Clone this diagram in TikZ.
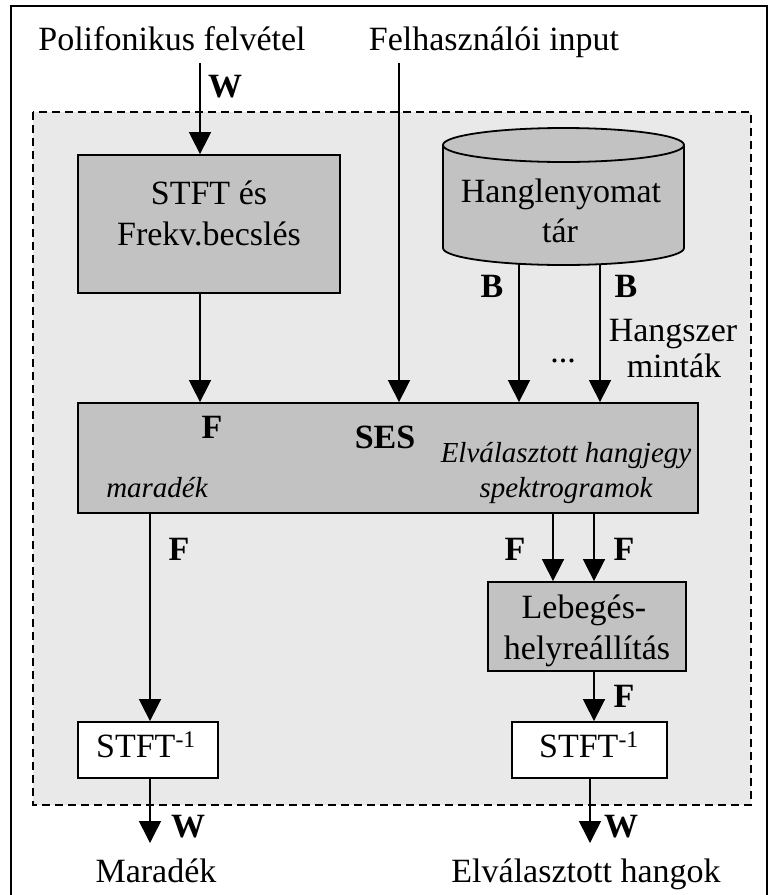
\documentclass[tikz,border=0pt]{standalone}
\usepackage{fontspec}
\setmainfont{Liberation Serif}
\usetikzlibrary{arrows.meta}
\definecolor{panel}{RGB}{233,233,233}
\definecolor{boxfill}{RGB}{194,194,194}
\begin{document}
\begin{tikzpicture}[x=1pt,y=-1pt,
  txt/.style={font=\fontsize{34}{40}\selectfont, inner sep=0pt, anchor=base},
  bld/.style={txt, font=\fontsize{34}{40}\selectfont\bfseries},
  itx/.style={txt, font=\fontsize{29}{34}\selectfont\itshape},
  box/.style={draw, line width=1.8pt, fill=boxfill, inner sep=0pt},
  wbox/.style={draw, line width=1.8pt, fill=white, inner sep=0pt},
  arr/.style={line width=1.6pt, -{Triangle[length=22pt,width=22pt]}},
  bodyline/.style={line width=1.8pt}
]
\useasboundingbox (0,0) rectangle (771,895);
\fill[white] (0,0) rectangle (771,895);
\draw[line width=1.5pt] (11,6) rectangle (767,910);
\draw[fill=panel, dash pattern=on 8pt off 5pt, line width=1.6pt] (33,112) rectangle (751,805);

% boxes
\node[box, minimum width=262pt, minimum height=138pt] (stft) at (209,224) {};
\node[box, minimum width=620pt, minimum height=110pt] (ses) at (388,458) {};
\node[box, minimum width=198pt, minimum height=89pt] (leb) at (587,626.5) {};
\node[wbox, minimum width=140pt, minimum height=56pt] (inv1) at (148,750) {};
\node[wbox, minimum width=155pt, minimum height=56pt] (inv2) at (589.5,750) {};

% cylinder (drawn shape, named frame node)
\node[minimum width=241pt, minimum height=137pt, inner sep=0pt] (cyl) at (563.5,196.5) {};
\fill[boxfill] (563.5,248) ellipse (120.5 and 17);
\fill[boxfill] (443,145) rectangle (684,248);
\begin{scope}
  \clip (430,248) rectangle (700,290);
  \draw[bodyline] (563.5,248) ellipse (120.5 and 17);
\end{scope}
\draw[bodyline] (443,145) -- (443,248);
\draw[bodyline] (684,145) -- (684,248);
\draw[bodyline, fill=boxfill] (563.5,145) ellipse (120.5 and 17);

% texts
\node[txt] (tpoly) at (172,50) {Polifonikus felvétel};
\node[txt] (tuser) at (494,50) {Felhasználói input};
\node[bld] (w0) at (225,97) {W};
\node[txt] (s1) at (209,204) {STFT és};
\node[txt] (s2) at (209,245) {Frekv.becslés};
\node[txt] (h1) at (561,202) {Hanglenyomat};
\node[txt] (h2) at (560,242) {tár};
\node[bld] (b1l) at (492,297) {B};
\node[bld] (b2l) at (626,297) {B};
\node[txt] (hs1) at (673,341) {Hangszer};
\node[txt] (hs2) at (674,377) {minták};
\node[txt] (dots) at (563,362) {...};
\node[bld] (fses) at (212,438) {F};
\node[bld] (tses) at (385,448) {SES};
\node[itx] (e1) at (566,462) {Elválasztott hangjegy};
\node[itx] (e2) at (566,497) {spektrogramok};
\node[itx] (mar) at (157,497) {maradék};
\node[bld] (f1) at (179,560) {F};
\node[bld] (f2) at (515,560) {F};
\node[bld] (f3) at (624,560) {F};
\node[txt] (l1) at (584,618) {Lebegés-};
\node[txt] (l2) at (587,659) {helyreállítás};
\node[bld] (f4) at (624,707) {F};
\node[txt] (i1) at (146,757) {STFT\textsuperscript{-1}};
\node[txt] (i2) at (589,757) {STFT\textsuperscript{-1}};
\node[bld] (w1) at (188,837) {W};
\node[bld] (w2) at (621,837) {W};
\node[txt] (o1t) at (156,882) {Maradék};
\node[txt] (o2t) at (586,882) {Elválasztott hangok};

% connector coordinates
\coordinate (c1) at (200,63);
\coordinate (c2) at (399,63);
\coordinate (cb1) at (519,263.5);
\coordinate (cb2) at (600,264);
\coordinate (cl) at (150,0);
\coordinate (cr1) at (553,0);
\coordinate (cr2) at (594,0);
\coordinate (o1) at (150,843);
\coordinate (o2) at (590,843);

% connectors
\draw[arr] (c1) -- (stft.north -| c1);
\draw[arr] (stft.south -| c1) -- (ses.north -| c1);
\draw[arr] (c2) -- (ses.north -| c2);
\draw[arr] (cb1) -- (ses.north -| cb1);
\draw[arr] (cb2) -- (ses.north -| cb2);
\draw[arr] (ses.south -| cl) -- (inv1.north -| cl);
\draw[arr] (ses.south -| cr1) -- (leb.north -| cr1);
\draw[arr] (ses.south -| cr2) -- (leb.north -| cr2);
\draw[arr] (leb.south -| cr2) -- (inv2.north -| cr2);
\draw[arr] (inv1.south -| o1) -- (o1);
\draw[arr] (inv2.south -| o2) -- (o2);
\end{tikzpicture}
\end{document}
